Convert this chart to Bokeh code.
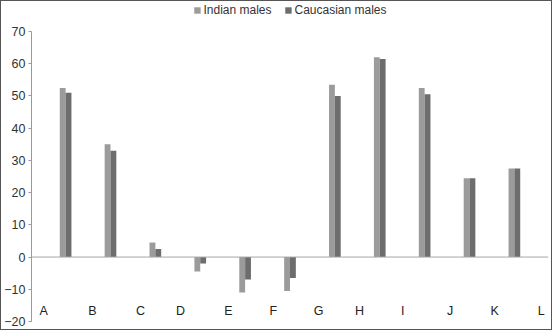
from bokeh.plotting import figure
from bokeh.models import ColumnDataSource, Legend, LegendItem, Span, FixedTicker, Range1d
from bokeh.core.properties import value
from bokeh.embed import file_html
from bokeh.resources import INLINE

groups = [1, 2, 3, 4, 5, 6, 7, 8, 9, 10, 11]
indian = [52.5, 35.0, 4.5, -4.5, -11.0, -10.5, 53.5, 62.0, 52.5, 24.5, 27.5]
caucasian = [51.0, 33.0, 2.5, -2.0, -7.0, -6.5, 50.0, 61.5, 50.5, 24.5, 27.5]
letters = ["A", "B", "C", "D", "E", "F", "G", "H", "I", "J", "K", "L"]
letter_x = [0.51, 1.60, 2.67, 3.56, 4.63, 5.63, 6.64, 7.55, 8.51, 9.57, 10.56, 11.60]
letter_y = [-16.6] * len(letters)
y_ticks = [-20, -10, 0, 10, 20, 30, 40, 50, 60, 70]

W, H = 552, 330
p = figure(width=W, height=H, output_backend="svg", toolbar_location=None,
           x_range=Range1d(0.24, 11.76), y_range=Range1d(-20, 78.7),
           min_border_left=26, min_border_right=5, min_border_top=2, min_border_bottom=10)
p.outline_line_color = None
p.grid.visible = False
p.xaxis.visible = False
p.styles = {"border": "1px solid #555555"}

ya = p.yaxis[0]
ya.ticker = FixedTicker(ticks=y_ticks)
ya.bounds = (-20, 70)
ya.axis_line_color = "#9a9a9a"
ya.major_tick_line_color = "#9a9a9a"
ya.major_tick_out = 3
ya.major_tick_in = 0
ya.minor_tick_line_color = None
ya.major_label_text_font = "Liberation Sans"
ya.major_label_text_font_size = "12.5px"
ya.major_label_text_color = "#333333"
ya.major_label_standoff = 3

bw = 0.13
r1 = p.vbar(x=[g - bw / 2 for g in groups], top=indian, width=bw, bottom=0,
            fill_color="#9b9b9b", line_color=None)
r2 = p.vbar(x=[g + bw / 2 for g in groups], top=caucasian, width=bw, bottom=0,
            fill_color="#6d6d6d", line_color=None)

p.add_layout(Span(location=0, dimension="width", line_color="#a6a6a6", line_width=1))

tsrc = ColumnDataSource(dict(x=letter_x, y=letter_y, t=letters))
p.text(x="x", y="y", text="t", source=tsrc, text_font=value("Liberation Sans"),
       text_font_size="12.5px", text_color="#222222", text_align="center", text_baseline="middle")

legend = Legend(items=[LegendItem(label="Indian males", renderers=[r1]),
                       LegendItem(label="Caucasian males", renderers=[r2])],
                orientation="horizontal", location="top_center",
                label_text_font="Liberation Sans", label_text_font_size="12px",
                label_text_color="#333333", glyph_width=8, glyph_height=8,
                label_standoff=3, spacing=12, padding=0, margin=0,
                label_height=12, border_line_color=None, background_fill_alpha=0)
p.add_layout(legend)

open("out.html", "w").write(file_html(p, INLINE))
